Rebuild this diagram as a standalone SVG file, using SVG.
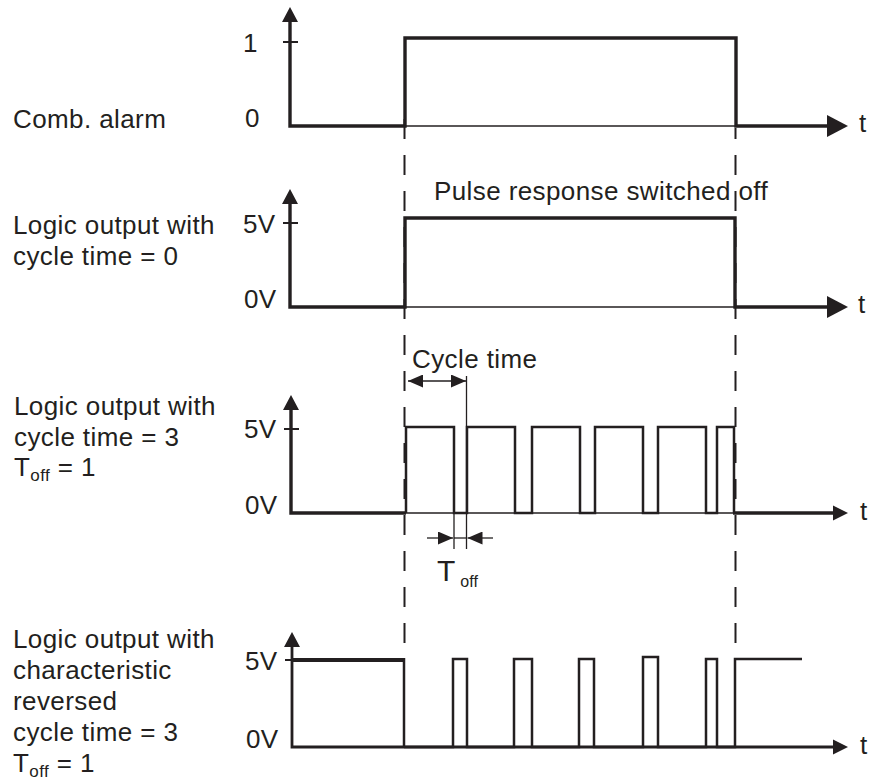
<svg xmlns="http://www.w3.org/2000/svg" xmlns:xlink="http://www.w3.org/1999/xlink" width="874" height="783" viewBox="0 0 874 783">
<style>
  text { font-family: "Liberation Sans", Arial, Helvetica, sans-serif; fill: #231f20; }
  .lbl { font-size: 26px; letter-spacing: 0.4px; }
  .ax { font-size: 26px; letter-spacing: 0.4px; }
  .t { font-size: 26px; }
  .sig { fill: none; stroke: #231f20; stroke-width: 3.4; stroke-linejoin: miter; }
  .pulse { fill: none; stroke: #231f20; stroke-width: 2.5; stroke-linejoin: miter; }
  .thin { fill: none; stroke: #231f20; stroke-width: 1.3; }
  .tick { stroke: #231f20; stroke-width: 2; }
  .dash { fill: none; stroke: #231f20; stroke-width: 2; stroke-dasharray: 20 16; }
  .head { fill: #231f20; }
</style>
<defs>
  <polygon id="hR" points="0,0 -21,-11 -21,11"/>
  <polygon id="hRs" points="0,0 -15,-7.5 -15,7.5"/>
  <polygon id="hU" points="0,0 -8,15 8,15"/>
  <marker id="dim" markerUnits="userSpaceOnUse" markerWidth="15" markerHeight="13" refX="15" refY="6.5" orient="auto-start-reverse">
    <path d="M0,0 L15,6.5 L0,13 z" fill="#231f20"/>
  </marker>
</defs>

<g id="connectors">
  <line class="dash" x1="404.5" y1="643" x2="404.5" y2="119"/>
  <line class="dash" x1="735.5" y1="643" x2="735.5" y2="128"/>
  <line class="thin" x1="466.5" y1="376" x2="466.5" y2="549"/>
  <line class="thin" x1="454" y1="513" x2="454" y2="549"/>
  <line class="thin" x1="408" y1="381" x2="466" y2="381" marker-start="url(#dim)" marker-end="url(#dim)"/>
  <line class="thin" x1="427" y1="538" x2="453" y2="538" marker-end="url(#dim)"/>
  <line class="thin" x1="493" y1="538" x2="467.5" y2="538" marker-end="url(#dim)"/>
  <line class="thin" x1="454" y1="538" x2="466.5" y2="538"/>
</g>

<g id="panel-comb-alarm">
  <text class="lbl" x="13" y="128">Comb. alarm</text>
  <text class="ax" x="243" y="52">1</text>
  <text class="ax" x="245" y="127">0</text>
  <line class="tick" x1="283" y1="42" x2="298" y2="42"/>
  <line class="thin" x1="405" y1="126" x2="736" y2="126"/>
  <polyline class="sig" points="290,21 290,126 405,126 405,38 736,38 736,126 829,126"/>
  <use href="#hU" class="head" x="290" y="7"/>
  <use href="#hR" class="head" x="848" y="126"/>
  <text class="t" x="859" y="132">t</text>
</g>

<g id="panel-cycle-0">
  <text class="lbl" x="13" y="234">Logic output with</text>
  <text class="lbl" x="13" y="265">cycle time = 0</text>
  <text class="lbl" x="434" y="200">Pulse response switched off</text>
  <text class="ax" x="243" y="233">5V</text>
  <text class="ax" x="244" y="308">0V</text>
  <line class="tick" x1="283" y1="223" x2="298" y2="223"/>
  <line class="thin" x1="405" y1="307" x2="735" y2="307"/>
  <polyline class="sig" points="290,203 290,307 405,307 405,218 735,218 735,307 829,307"/>
  <use href="#hU" class="head" x="290" y="189"/>
  <use href="#hR" class="head" x="848" y="307"/>
  <text class="t" x="858" y="313">t</text>
</g>

<g id="panel-cycle-3">
  <text class="lbl" x="14" y="415">Logic output with</text>
  <text class="lbl" x="14" y="446">cycle time = 3</text>
  <text class="lbl" x="14" y="476">T<tspan font-size="17" dy="5">off</tspan><tspan dy="-5"> = 1</tspan></text>
  <text class="lbl" x="412" y="368">Cycle time</text>
  <text x="437" y="581" font-size="30">T<tspan font-size="16" dx="5" dy="6">off</tspan></text>
  <text class="ax" x="244" y="438">5V</text>
  <text class="ax" x="245" y="514">0V</text>
  <line class="tick" x1="284" y1="429" x2="299" y2="429"/>
  <line class="thin" x1="406" y1="513" x2="735" y2="513"/>
  <polyline class="sig" points="291,410 291,513 406,513"/>
  <polyline class="pulse" points="406,513 406,427 454,427 454,513 467,513 467,427 515,427 515,513 532,513 532,427 580,427 580,513 595,513 595,427 643,427 643,513 658,513 658,427 706,427 706,513 717,513 717,427 734,427 734,513"/>
  <line class="sig" x1="733" y1="513" x2="834" y2="513"/>
  <use href="#hU" class="head" x="291" y="395"/>
  <use href="#hRs" class="head" x="848" y="513"/>
  <text class="t" x="860" y="520">t</text>
</g>

<g id="panel-reversed">
  <text class="lbl" x="13" y="648">Logic output with</text>
  <text class="lbl" x="13" y="679">characteristic</text>
  <text class="lbl" x="13" y="710">reversed</text>
  <text class="lbl" x="13" y="741">cycle time = 3</text>
  <text class="lbl" x="13" y="772">T<tspan font-size="17" dy="5">off</tspan><tspan dy="-5"> = 1</tspan></text>
  <text class="ax" x="245" y="670">5V</text>
  <text class="ax" x="246" y="748">0V</text>
  <line class="tick" x1="285" y1="660" x2="300" y2="660"/>
  <polyline class="sig" style="stroke-width:2.8" points="292,645 292,747 835,747"/>
  <line class="sig" style="stroke-width:4" x1="292" y1="660" x2="405" y2="660"/>
  <line class="pulse" x1="404" y1="658" x2="404" y2="747"/>
  <polyline class="pulse" points="404,747 453,747 453,659 467,659 467,747 514,747 514,659 532,659 532,747 579,747 579,659 594,659 594,747 643,747 643,657 658,657 658,747 706,747 706,659 717,659 717,747 735,747 735,659 802,659"/>
  <use href="#hU" class="head" x="292" y="632"/>
  <use href="#hRs" class="head" x="848" y="747"/>
  <text class="t" x="860" y="754">t</text>
</g>
</svg>
